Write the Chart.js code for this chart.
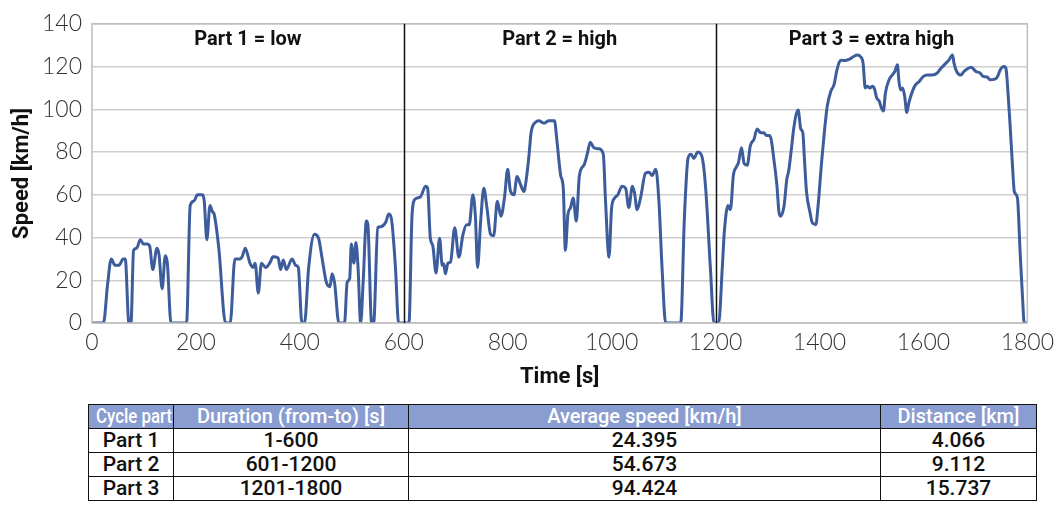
<!DOCTYPE html>
<html>
<head>
<meta charset="utf-8">
<script src="https://cdn.jsdelivr.net/npm/chart.js@4"></script>
<style>
  html, body { margin: 0; padding: 0; background: #ffffff; }
  #wrap { position: absolute; left: 0; top: 0; width: 1060px; height: 395px; }
  table {
    position: absolute; left: 88px; top: 404px; width: 948px;
    border-collapse: collapse; table-layout: fixed;
    font-family: Roboto, "Liberation Sans", sans-serif;
  }
  td, th { border: 1.5px solid #111; height: 23px; padding: 0; text-align: center; line-height: 23px; white-space: nowrap; overflow: hidden; }
  th { background: #8a9dd1; color: #ffffff; font-size: 20px; font-weight: 500; }
  td { color: #111; font-size: 21px; font-weight: 500; }
  span.t { display: inline-block; transform-origin: 50% 50%; }
</style>
</head>
<body>
<div id="wrap"><canvas id="c" width="1060" height="395"></canvas></div>
<table id="tbl">
  <colgroup><col style="width:85px"><col style="width:235px"><col style="width:472px"><col style="width:156px"></colgroup>
  <thead><tr id="hdr"></tr></thead>
  <tbody id="body"></tbody>
</table>
<script>
// ---- data ----
const time1 = [0,22,30,37,44,52,60,64,71,75,80,86,93,99,106,111,117,125,129,135,141,145,152,182,189,196,203,213,216,221,227,232,235,244,257,266,275,284,289,295,304,310,314,320,326,334,343,348,358,363,368,374,385,392,397,404,409,417,428,436,443,451,458,462,467,475,486,491,496,499,504,508,512,517,522,528,531,538,542,550,555,565,571,576,584,590,600];
const speed1 = [0,0,18,30,27,27,30,30,0,0,34,35,39,37,37,36,25,35,32,16,31.5,28,0,0,55,57,60,60,57,39,55,52,51,35,0,0,30,30,31,35,28,26,28,14,28,26,28.5,31,30.5,25,29.5,25,30,27,26,0,0,26,41.5,39.7,30,19,17,23,18.5,0,0,19,21,37,28,37.7,26,0,20,47.7,46,0,0,44.6,45,47,51,49,26,0,0];
const time2 = [610,616,622,632,642,646,651,656,662,669,674,677,680,685,690,698,706,714,721,726,733,738,742,748,754,760,767,773,780,787,794,800,805,812,818,825,831,836,841,845,854,860,870,879,890,895,902,907,911,916,921,926,932,938,947,953,959,966,975,984,988,995,1000,1006,1012,1020,1027,1033,1040,1044,1049,1056,1065,1072,1078,1085,1091,1097,1104,1133,1140,1147,1153,1158,1166,1174,1181,1190,1197,1200];
const speed2 = [0,51,58,59,64,63,40,36,23.4,39.7,27,27.7,23,28,28.5,44.6,30.8,41.5,46,46,60,49,26,47.7,63,54,41.5,40.8,57,50,59,72,62,60,68.5,64.6,61.5,67.7,78.5,89,94,94.6,93.5,94.6,94.6,84.6,69,63,34,51,54,58.5,47.7,69,74,79,84.6,82,81.5,79,58.5,30.8,54,58.5,60,64,63,54,64,61,53,59,70,70.5,69,72,57,26,0,0,49,77,79,77,80,77.7,63,26,0,0];
const time3 = [1206,1213,1217,1224,1228,1230,1234,1240,1244,1250,1255,1261,1267,1274,1280,1287,1293,1298,1303,1307,1312,1318,1322,1325,1332,1337,1341,1346,1351,1359,1364,1368,1371,1375,1382,1386,1393,1397,1404,1410,1415,1422,1428,1433,1438,1442,1448,1457,1465,1473,1479,1484,1488,1492,1497,1502,1506,1510,1515,1519,1523,1527,1534,1540,1545,1550,1553,1556,1560,1564,1568,1572,1579,1585,1592,1600,1608,1617,1627,1633,1643,1649,1656,1659,1664,1672,1678,1685,1692,1701,1709,1715,1723,1728,1736,1742,1748,1755,1759,1762,1767,1771,1775,1781,1786,1791,1794,1800];
const speed3 = [0,26,43,55,53,55,68.5,73,75,82,74.6,73.8,83,86,90.8,89,89,87.7,87.7,86,77,64.6,52,50,55,67,71.5,81.5,92,99.7,90.8,89,77,61.5,51.5,47,46,54,75,90.8,101.5,108.5,111.5,117.7,122,123,122.8,123.4,124.6,125.4,124.6,121.5,110,110.8,110,110.8,109.5,105.4,103.8,100.8,99.2,107.7,113.8,116,117.7,120.8,113,109,110,106,98.5,103,108.5,111.5,113,115.4,116,116,117,119,121.5,123,125.4,121.5,117.7,116,117.7,119,119.7,117.7,117,115.4,115,113.8,114,115,118.5,120,119,110.8,92,75.4,61.5,58.5,34,10.8,0,0];

const xTicks = [0,200,400,600,800,1000,1200,1400,1600,1800];
const yTicks = [0,20,40,60,80,100,120,140];
const dividerTimes = [600, 1200];
const partLabels = ["Part 1 = low", "Part 2 = high", "Part 3 = extra high"];
const partLabelTimes = [300, 900, 1500];

const tableHeader = ["Cycle part", "Duration (from-to) [s]", "Average speed [km/h]", "Distance [km]"];
const cycleParts = ["Part 1", "Part 2", "Part 3"];
const durations = ["1-600", "601-1200", "1201-1800"];
const avgSpeeds = ["24.395", "54.673", "94.424"];
const distances = ["4.066", "9.112", "15.737"];

// ---- table ----
function cell(tag, text) {
  const c = document.createElement(tag);
  const s = document.createElement('span');
  s.className = 't';
  s.textContent = text;
  c.appendChild(s);
  return c;
}
const hdr = document.getElementById('hdr');
tableHeader.forEach(h => hdr.appendChild(cell('th', h)));
const tbody = document.getElementById('body');
cycleParts.forEach((p, i) => {
  const tr = document.createElement('tr');
  [p, durations[i], avgSpeeds[i], distances[i]].forEach(v => tr.appendChild(cell('td', v)));
  tbody.appendChild(tr);
});
document.querySelectorAll('span.t').forEach(s => {
  const avail = s.parentElement.clientWidth - 8;
  const w = s.getBoundingClientRect().width;
  if (w > avail) s.style.transform = 'scaleX(' + (avail / w).toFixed(3) + ')';
});

// ---- chart ----
const allT = time1.concat(time2, time3);
const allV = speed1.concat(speed2, speed3);
const points = allT.map((t, i) => ({ x: t, y: allV[i] }));

const condensed = 'Roboto, "Liberation Sans", sans-serif';
const tickFont = { family: 'Lato, "Liberation Sans", sans-serif', size: 23, weight: '300' };

const overlay = {
  id: 'overlay',
  afterDatasetsDraw(chart) {
    const { ctx, chartArea: a, scales: { x, y } } = chart;
    ctx.save();
    ctx.strokeStyle = '#bdbdbd';
    ctx.lineWidth = 1.5;
    ctx.strokeRect(a.left, a.top, a.right - a.left, a.bottom - a.top);
    ctx.strokeStyle = '#111';
    ctx.lineWidth = 1.5;
    dividerTimes.forEach(t => {
      const px = Math.round(x.getPixelForValue(t)) + 0.5;
      ctx.beginPath(); ctx.moveTo(px, a.top); ctx.lineTo(px, a.bottom); ctx.stroke();
    });
    ctx.fillStyle = '#111';
    ctx.font = 'bold 20px ' + condensed;
    ctx.textAlign = 'center';
    ctx.textBaseline = 'middle';
    partLabels.forEach((lab, i) => {
      ctx.fillText(lab, x.getPixelForValue(partLabelTimes[i]), y.getPixelForValue(132.5));
    });
    ctx.restore();
  }
};

new Chart(document.getElementById('c'), {
  type: 'line',
  data: {
    datasets: [{
      data: points,
      borderColor: '#3d5c9c',
      borderWidth: 3,
      pointRadius: 0,
      fill: false,
      tension: 0.25,
      cubicInterpolationMode: 'monotone'
    }]
  },
  options: {
    responsive: false,
    animation: false,
    layout: { padding: { left: 0, right: 32, top: 20, bottom: 0 } },
    plugins: { legend: { display: false }, tooltip: { enabled: false } },
    scales: {
      x: {
        type: 'linear', min: 0, max: 1800,
        afterBuildTicks: s => { s.ticks = xTicks.map(v => ({ value: v })); },
        afterFit: s => { s.height = 72; },
        grid: { display: false, drawTicks: false },
        border: { display: false },
        ticks: { font: tickFont, color: '#333', padding: 6, maxRotation: 0, callback: v => String(v) },
        title: { display: true, text: 'Time [s]', font: { family: condensed, size: 22, weight: 'bold' }, color: '#111', padding: { top: 3 } }
      },
      y: {
        min: 0, max: 140,
        afterBuildTicks: s => { s.ticks = yTicks.map(v => ({ value: v })); },
        afterFit: s => { s.width = 92; },
        grid: { color: '#cfcfcf', lineWidth: 1.5, drawTicks: false },
        border: { display: false },
        ticks: { font: tickFont, color: '#333', padding: 10, callback: v => String(v) },
        title: { display: true, text: 'Speed [km/h]', font: { family: condensed, size: 22, weight: 'bold' }, color: '#111', padding: { top: 9, bottom: 0 } }
      }
    }
  },
  plugins: [overlay]
});
</script>
</body>
</html>
